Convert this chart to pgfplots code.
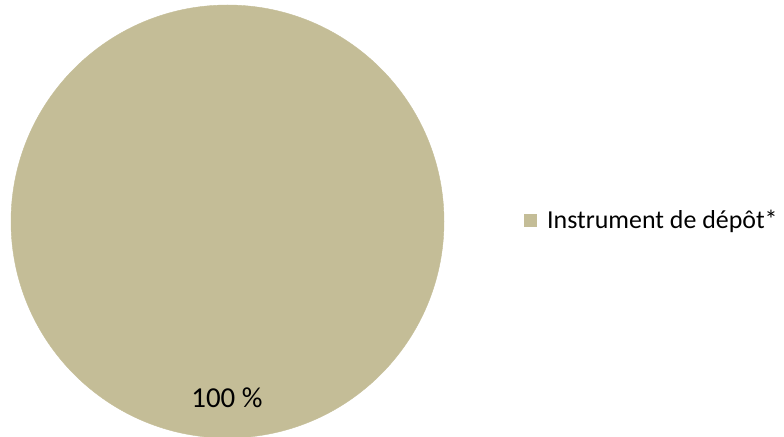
\documentclass[border=0pt]{standalone}
\usepackage{pgfplots}
\pgfplotsset{compat=1.18}
\usepackage{fontspec}
\setmainfont{Carlito}
\definecolor{pietan}{RGB}{196,189,151}

\begin{document}
\begin{tikzpicture}
\begin{axis}[
    width=784bp, height=437bp,
    scale only axis,
    hide axis,
    xmin=0, xmax=784,
    ymin=0, ymax=437,
    clip=false,
    legend style={at={(axis cs:524,216.5)}, anchor=west, draw=none, fill=none,
        inner sep=0pt, font=\fontsize{26}{31}\selectfont},
    legend image code/.code={
        \fill[pietan, draw=none] (0bp,-6.5bp) rectangle (13bp,6.5bp);
        \path[draw=none, fill=none] (0bp,0bp) rectangle (21bp,0.1bp);},
]

% one slice: 100 %
\addplot[only marks, color=pietan, mark=*,
    mark options={fill=pietan, draw=none}, mark size=216.5bp]
coordinates {(227.5,215.5)};
\addlegendentry{Instrument de dépôt*}

\coordinate (lab) at (axis cs:227,30);
\end{axis}
\node[anchor=base, font=\fontsize{29}{34}\selectfont] at (lab) {100 \%};
\pgfresetboundingbox
\path (current axis.south west) rectangle (current axis.north east);
\end{tikzpicture}
\end{document}
